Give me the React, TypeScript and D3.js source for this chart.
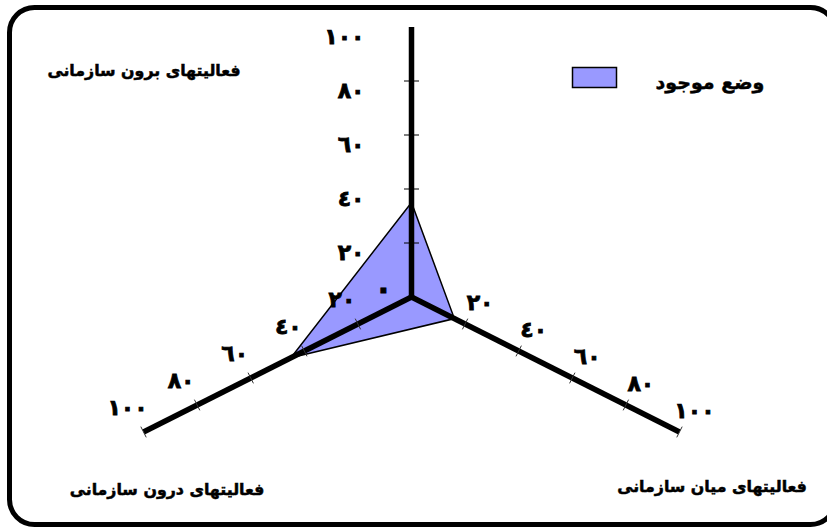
import React from "react"
import * as d3 from "d3"

// chart data
const CATEGORIES = ["فعالیتهای برون سازمانی", "فعالیتهای میان سازمانی", "فعالیتهای درون سازمانی"]
const SERIES_NAME = "وضع موجود"
const VALUES = [35, 16, 45]
const TICK_VALUES = [20, 40, 60, 80, 100]
const TICK_LABELS = ["٢٠", "٤٠", "٦٠", "٨٠", "١٠٠"]
const ZERO_LABEL = "٠"

const width = 827
const height = 527
const cx = 411.5
const cy = 297
const radius = 270
const stretchX = 1.146
const font = "'DejaVu Sans', sans-serif"

const rScale = d3.scaleLinear().domain([0, 100]).range([0, radius])
const angle = (i: number) => (i * 2 * Math.PI) / CATEGORIES.length

function point(i: number, v: number): [number, number] {
    const a = angle(i)
    return [cx + rScale(v) * Math.sin(a) * stretchX, cy - rScale(v) * Math.cos(a)]
}

export default function App() {
    const area = d3.line().curve(d3.curveLinearClosed)(VALUES.map((v, i) => point(i, v)))

    return (
        <svg width={width} height={height} style={{ position: "absolute", left: 0, top: 0, background: "#fff" }}>
            <rect x={9.5} y={7.5} width={826} height={517} rx={25} fill="#fff" stroke="#000" strokeWidth={5} />

            <path d={area || ""} fill="#9999ff" stroke="#000" strokeWidth={1.5} strokeLinejoin="miter" />

            {CATEGORIES.map((c, i) => {
                const [x2, y2] = point(i, 100)
                const a = angle(i)
                // unit normal to the axis on screen
                const dx = Math.sin(a) * stretchX
                const dy = -Math.cos(a)
                const len = Math.hypot(dx, dy)
                const nx = -dy / len
                const ny = dx / len
                const half = i === 0 ? 7.5 : 6
                const ticks = i === 0 ? TICK_VALUES.slice(0, -1) : TICK_VALUES
                return (
                    <g key={c}>
                        <line x1={cx} y1={cy} x2={x2} y2={y2} stroke="#000" strokeWidth={5.5} strokeLinecap="butt" />
                        {ticks.map(t => {
                            const [tx, ty] = point(i, t)
                            return (
                                <line key={t} x1={tx - nx * half} y1={ty - ny * half} x2={tx + nx * half} y2={ty + ny * half}
                                    stroke={i === 0 ? "#000" : "#333"} strokeWidth={1} />
                            )
                        })}
                    </g>
                )
            })}
            <circle cx={cx} cy={cy} r={2.75} fill="#000" />

            <g fontFamily={font} fontWeight="bold" fontSize={22} fill="#000" stroke="#000" strokeWidth={0.8}>
                {TICK_VALUES.map((t, k) => {
                    const [, y] = point(0, t)
                    return (
                        <text key={"v" + t} x={cx - 47} y={y + 9} textAnchor="end" dominantBaseline="central">{TICK_LABELS[k]}</text>
                    )
                })}
                {TICK_VALUES.map((t, k) => {
                    const [x, y] = point(1, t)
                    return (
                        <text key={"r" + t} x={x + 15} y={y - 22} textAnchor="middle" dominantBaseline="central">{TICK_LABELS[k]}</text>
                    )
                })}
                {TICK_VALUES.map((t, k) => {
                    const [x, y] = point(2, t)
                    return (
                        <text key={"l" + t} x={x - 16} y={y - 25} textAnchor="middle" dominantBaseline="central">{TICK_LABELS[k]}</text>
                    )
                })}
                <text x={point(0, 0)[0] - 28} y={point(0, 0)[1] - 9} textAnchor="middle" dominantBaseline="central" fontSize={30}>{ZERO_LABEL}</text>
            </g>

            <g fontFamily={font} fontWeight="bold" fontSize={15.8} fill="#000" stroke="#000" strokeWidth={0.5}>
                <text x={144} y={70} textAnchor="middle" dominantBaseline="central">{CATEGORIES[0]}</text>
                <text x={712} y={486} textAnchor="middle" dominantBaseline="central">{CATEGORIES[1]}</text>
                <text x={167} y={489} textAnchor="middle" dominantBaseline="central">{CATEGORIES[2]}</text>
            </g>

            <g>
                <rect x={572.5} y={67.5} width={44} height={20} fill="#9999ff" stroke="#000" strokeWidth={1.5} />
                <text x={710} y={82} textAnchor="middle" dominantBaseline="central" fontFamily={font} fontWeight="bold"
                    fontSize={19} stroke="#000" strokeWidth={0.5}>{SERIES_NAME}</text>
            </g>
        </svg>
    )
}
